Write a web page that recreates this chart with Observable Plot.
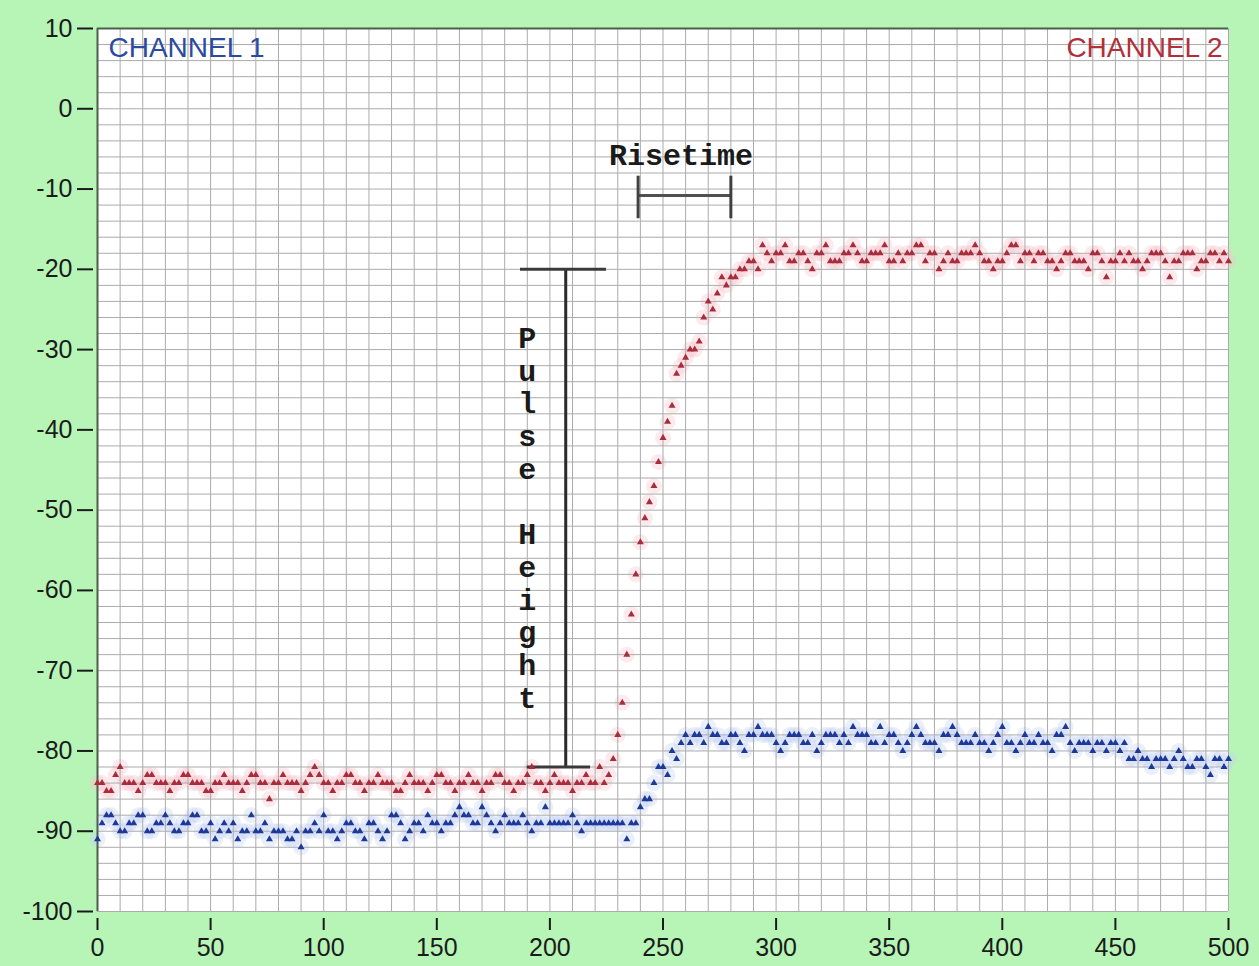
<!DOCTYPE html>
<html>
<head>
<meta charset="utf-8">
<script src="https://cdn.jsdelivr.net/npm/d3@7"></script>
<script src="https://cdn.jsdelivr.net/npm/@observablehq/plot@0.6"></script>
<style>
  html, body { margin: 0; padding: 0; background: #b7f5b7; }
</style>
</head>
<body>
<div id="chart"></div>
<script>
// ---- tick labels ----
const xTicks = [0, 50, 100, 150, 200, 250, 300, 350, 400, 450, 500];
const yTicks = [10, 0, -10, -20, -30, -40, -50, -60, -70, -80, -90, -100];

// ---- sample spacing (time units between samples) ----
const sampleStep = 2;

// ---- CHANNEL 2 (red), one value per sample, x = 0..500 ----
const channel2 = [
  -84,-84,-85,-85,-83,-82,-84,-84,-84,-85,
  -84,-83,-83,-84,-84,-84,-85,-84,-84,-83,
  -83,-84,-84,-84,-85,-85,-84,-84,-83,-84,
  -84,-84,-85,-84,-83,-83,-84,-84,-86,-84,
  -84,-83,-84,-84,-84,-85,-84,-83,-82,-83,
  -84,-84,-85,-84,-84,-83,-83,-84,-84,-85,
  -84,-84,-83,-84,-84,-84,-85,-85,-84,-83,
  -84,-84,-84,-85,-84,-83,-83,-84,-84,-85,
  -84,-84,-83,-84,-84,-85,-84,-84,-83,-83,
  -84,-84,-85,-84,-84,-83,-82,-84,-84,-85,
  -84,-83,-84,-84,-84,-85,-84,-84,-83,-84,
  -84,-82,-84,
  -83,-81,-78,-74,-68,-63,-58,-54,-51,-49,
  -47,-44,-41,-39,-37,-33,-32,-31,-30,-30,
  -29,-26,-24,-25,-23,-21,-22,-21,-21,-20,
  -20,-19,-19,-20,-17,-18,
  -19,-18,-18,-17,-19,-19,-18,-18,-19,-20,
  -18,-18,-17,-19,-19,-19,-18,-18,-17,-18,
  -19,-19,-18,-18,-18,-17,-19,-19,-18,-19,
  -18,-18,-17,-17,-19,-18,-18,-20,-19,-18,
  -19,-19,-18,-18,-18,-17,-18,-19,-19,-20,
  -19,-19,-18,-17,-17,-19,-18,-18,-19,-18,
  -18,-19,-19,-20,-19,-18,-18,-19,-19,-19,
  -20,-18,-18,-19,-21,-19,-19,-18,-19,-18,
  -19,-19,-20,-19,-18,-18,-18,-19,-21,-19,
  -19,-18,-18,-18,-20,-19,-19,-18,-18,-19,
  -18,-19
];

// ---- CHANNEL 1 (blue) ----
const channel1 = [
  -91,-89,-88,-88,-89,-90,-90,-89,-89,-88,
  -88,-90,-90,-89,-89,-88,-89,-90,-90,-89,
  -89,-88,-88,-90,-90,-89,-91,-90,-89,-90,
  -89,-91,-90,-90,-88,-90,-90,-89,-91,-90,
  -90,-90,-91,-91,-90,-92,-90,-90,-89,-90,
  -88,-90,-90,-91,-90,-89,-89,-90,-90,-91,
  -89,-89,-90,-91,-90,-88,-88,-89,-91,-90,
  -89,-89,-90,-88,-89,-89,-90,-89,-89,-88,
  -87,-88,-88,-89,-89,-87,-88,-89,-90,-89,
  -88,-89,-89,-89,-88,-89,-90,-89,-89,-87,
  -89,-89,-89,-89,-89,-88,-89,-90,-89,-89,
  -89,-89,-89,-89,-89,-89,-89,-91,-89,-89,
  -87,-86,-86,-84,-82,-82,-83,-80,-81,-79,
  -78,-79,-78,-78,-79,
  -77,-78,-78,-79,-79,-78,-78,-79,-80,-78,
  -78,-77,-78,-78,-78,-79,-80,-79,-78,-78,
  -78,-79,-79,-78,-80,-79,-78,-78,-78,-79,
  -78,-79,-77,-78,-78,-78,-79,-79,-77,-79,
  -78,-78,-79,-80,-79,-78,-77,-78,-79,-79,
  -79,-80,-78,-78,-77,-78,-79,-79,-79,-78,
  -79,-79,-80,-79,-78,-77,-79,-79,-80,-79,
  -78,-79,-79,-78,-79,-79,-80,-78,-78,-77,
  -79,-80,-79,-79,-79,-80,-79,-79,-80,-79,
  -79,-80,-79,
  -81,-81,-80,-81,-81,-82,-81,-81,-81,-82,
  -81,-80,-81,-82,-82,-81,-81,-82,-83,-81,
  -81,-82,-81
];

// ---- annotations ----
const pulseBar = { x: 207, top: -20, bottom: -82 };
const pulseCapTop = { x1: 187, x2: 225 };
const pulseCapBottom = { x1: 190, x2: 218 };
const pulseLabel = { x: 190, y: -26.9, text: "P\nu\nl\ns\ne\n\nH\ne\ni\ng\nh\nt" };
const riseBar = { x1: 239, x2: 280, y: -10.8, capTop: -8.4, capBottom: -13.7 };
const riseLabel = { x: 258, y: -5.8, text: "Risetime" };

const toPoints = (arr) => arr.map((v, i) => ({ x: i * sampleStep, y: v }));
const pts1 = toPoints(channel1);
const pts2 = toPoints(channel2);

const gridX = d3.range(0, 501, 10);
const gridY = d3.range(-100, 11, 2);

const red = "#a82c3c";
const blue = "#1d3896";

const chart = Plot.plot({
  width: 1259,
  height: 966,
  marginTop: 28,
  marginLeft: 97,
  marginRight: 31,
  marginBottom: 55,
  x: { domain: [0, 500] },
  y: { domain: [-100, 10] },
  style: {
    background: "#b7f5b7",
    fontFamily: "'Liberation Sans', Arial, sans-serif",
    fontSize: "25px",
    color: "#1b1b1b"
  },
  marks: [
    Plot.frame({ fill: "white", stroke: null }),
    // faint colour bleed around the traces
    Plot.dot(pts2, { x: "x", y: "y", r: 8, fill: "#f7c4cb", fillOpacity: 0.35, stroke: null }),
    Plot.dot(pts1, { x: "x", y: "y", r: 8, fill: "#c4d2f7", fillOpacity: 0.35, stroke: null }),
    Plot.ruleX(gridX, { stroke: "#ababab", strokeWidth: 1 }),
    Plot.ruleY(gridY, { stroke: "#ababab", strokeWidth: 1 }),
    Plot.ruleX([0], { stroke: "#4d5f4d", strokeWidth: 2 }),
    Plot.ruleY([10], { stroke: "#4d5f4d", strokeWidth: 2 }),
    Plot.axisX(xTicks, {
      tickSize: 12, tickPadding: 8, dy: 7, strokeWidth: 2,
      tickFormat: (d) => String(d), label: null, fontSize: 25
    }),
    Plot.axisY(yTicks, {
      tickSize: 16, tickPadding: 5, dx: -4, strokeWidth: 2,
      tickFormat: (d) => String(d), label: null, fontSize: 25
    }),
    // Pulse height bracket
    Plot.ruleX([pulseBar], { x: "x", y1: "top", y2: "bottom", stroke: "#2a2a2a", strokeWidth: 3 }),
    Plot.ruleY([{ ...pulseCapTop, y: pulseBar.top }], { x1: "x1", x2: "x2", y: "y", stroke: "#3a3a3a", strokeWidth: 3 }),
    Plot.ruleY([{ ...pulseCapBottom, y: pulseBar.bottom }], { x1: "x1", x2: "x2", y: "y", stroke: "#3a3a3a", strokeWidth: 3 }),
    Plot.text([pulseLabel], {
      x: "x", y: "y", text: "text", lineAnchor: "top", lineHeight: 1.09,
      fontFamily: "'Liberation Mono', 'Courier New', monospace", fontWeight: "bold",
      fontSize: 30, fill: "#1a1a1a"
    }),
    // Risetime bracket
    Plot.ruleY([riseBar], { x1: "x1", x2: "x2", y: "y", stroke: "#505050", strokeWidth: 3 }),
    Plot.ruleX([{ x: riseBar.x1, ...riseBar }, { ...riseBar, x: riseBar.x2 }], {
      x: "x", y1: "capTop", y2: "capBottom", stroke: "#404040", strokeWidth: 3
    }),
    Plot.text([riseLabel], {
      x: "x", y: "y", text: "text",
      fontFamily: "'Liberation Mono', 'Courier New', monospace", fontWeight: "bold",
      fontSize: 30, fill: "#1a1a1a"
    }),
    // traces
    Plot.dot(pts2, { x: "x", y: "y", symbol: "triangle", r: 2.6, fill: red, stroke: null }),
    Plot.dot(pts1, { x: "x", y: "y", symbol: "triangle", r: 2.6, fill: blue, stroke: null }),
    // channel labels
    Plot.text(["CHANNEL 1"], {
      frameAnchor: "top-left", dx: 11, dy: 9, lineAnchor: "top", textAnchor: "start",
      fontSize: 28, fill: "#2b4aa0"
    }),
    Plot.text(["CHANNEL 2"], {
      frameAnchor: "top-right", dx: -6, dy: 9, lineAnchor: "top", textAnchor: "end",
      fontSize: 28, fill: "#b22f3a"
    })
  ]
});

document.getElementById("chart").appendChild(chart);
</script>
</body>
</html>
